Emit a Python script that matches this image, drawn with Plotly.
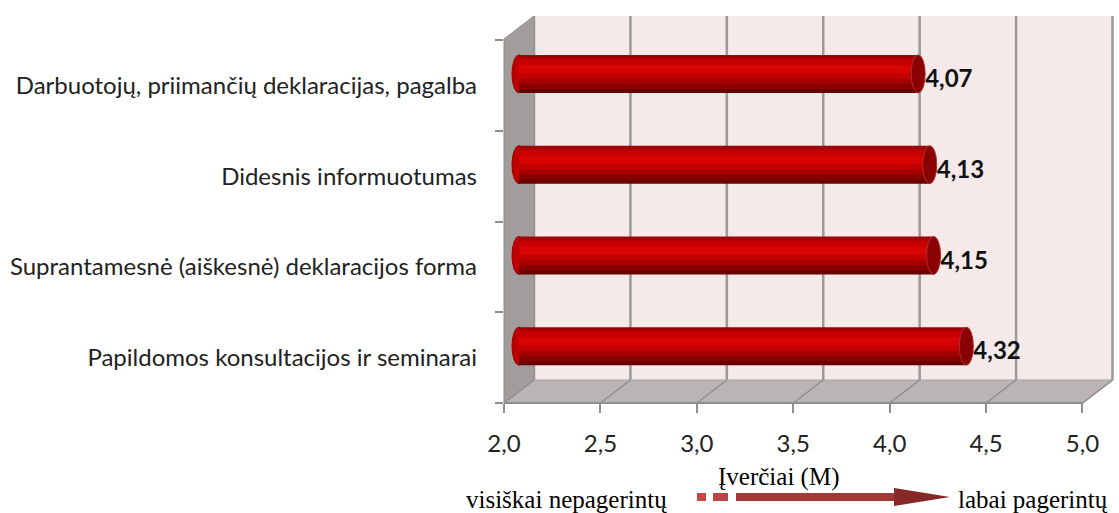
import plotly.graph_objects as go

# data
categories = ["Papildomos konsultacijos ir seminarai",
              "Suprantamesnė (aiškesnė) deklaracijos forma",
              "Didesnis informuotumas",
              "Darbuotojų, priimančių deklaracijas, pagalba"]
values = [4.32, 4.15, 4.13, 4.07]
x_ticks = [2.0, 2.5, 3.0, 3.5, 4.0, 4.5, 5.0]
x_title = "Įverčiai (M)"
low_label = "visiškai nepagerintų"
high_label = "labai pagerintų"

# geometry of the fake 3d box (pixels)
W, H = 1119, 513
L, R, T, B = 504, 1116, 16, 403
DX, DY = 30, 23
scale = 192.83            # px per unit on front axis
band = 90.75
x0 = 2.0
x_rng = [x0, x0 + (R - L) / scale]
y_rng = [-0.5, -0.5 + (B - T) / band]
# bars sit half way in depth
x2_rng = [r - (DX / 2) / scale for r in x_rng]
y2_rng = [r - (DY / 2) / band for r in y_rng]

def px(x):
    return (x - L) / (R - L)

def py(y):
    return (B - y) / (B - T)

ypos = list(range(len(categories)))
fig = go.Figure()
# keeps the front axes drawn
fig.add_trace(go.Scatter(x=[x0], y=[0], mode="markers", marker_opacity=0,
                         hoverinfo="skip", showlegend=False))

# cylinder look: horizontal stripes stacked from top to bottom
half = 19 / band
stripes = [(19, 15, "#a30000"), (15, 9, "#c60000"), (9, 1, "#d90303"),
           (1, -5, "#c20000"), (-5, -10, "#a40000"), (-10, -15, "#860000"),
           (-15, -19, "#690000")]
for top, bot, col in stripes:
    b = bot - 1.2 if bot > -19 else bot
    fig.add_trace(go.Bar(
        y=ypos, x=[v - x0 for v in values], base=x0, orientation="h",
        width=(top - b) / band, offset=b / band,
        marker=dict(color=col, line_width=0),
        xaxis="x2", yaxis="y2", hoverinfo="skip", showlegend=False))

shapes = []
# back wall, floor, left wall
shapes.append(dict(type="path", xref="paper", yref="paper", layer="below",
                   path=f"M{px(L+DX)},{py(T)} L{px(1083+DX)},{py(T)} L{px(1083+DX)},{py(B-DY)} L{px(L+DX)},{py(B-DY)} Z",
                   fillcolor="#f5e9e9", line_width=0))
for t in x_ticks:
    xb = L + DX + (t - x0) * scale
    shapes.append(dict(type="line", xref="paper", yref="paper", layer="below",
                       x0=px(xb), y0=py(T), x1=px(xb), y1=py(B - DY),
                       line=dict(color="#9a9a9a", width=2.5)))
shapes.append(dict(type="path", xref="paper", yref="paper", layer="below",
                   path=f"M{px(L)},{py(B)} L{px(1083)},{py(B)} L{px(1083+DX)},{py(B-DY)} L{px(L+DX)},{py(B-DY)} Z",
                   fillcolor="#bbb4b4", line=dict(color="#a8a2a2", width=1)))
for t in x_ticks:
    xb = L + DX + (t - x0) * scale
    xf = L + (t - x0) * scale
    shapes.append(dict(type="line", xref="paper", yref="paper", layer="below",
                       x0=px(xf), y0=py(B), x1=px(xb), y1=py(B - DY),
                       line=dict(color="#8f8f8f", width=1.5)))
shapes.append(dict(type="path", xref="paper", yref="paper", layer="below",
                   path=f"M{px(L)},{py(T+DY)} L{px(L+DX)},{py(T)} L{px(L+DX)},{py(B-DY)} L{px(L)},{py(B)} Z",
                   fillcolor="#a19d9d", line=dict(color="#8f8b8b", width=1)))
shapes.append(dict(type="line", xref="paper", yref="paper", layer="below",
                   x0=px(L), y0=py(B), x1=px(1083), y1=py(B),
                   line=dict(color="#8f8f8f", width=2)))

# bar end caps
cw = 7 / scale
for y, v in zip(ypos, values):
    shapes.append(dict(type="circle", xref="x2", yref="y2", layer="below",
                       x0=x0 - cw, x1=x0 + cw, y0=y - half, y1=y + half,
                       fillcolor="#bd0000", line=dict(color="#9a0000", width=1)))
    shapes.append(dict(type="circle", xref="x2", yref="y2", layer="above",
                       x0=v - cw, x1=v + cw, y0=y - half, y1=y + half,
                       fillcolor="#8a0000", line=dict(color="#a83030", width=1)))

# value labels
fig.add_trace(go.Scatter(
    x=[v + cw for v in values], y=[y - 0.08 for y in ypos], mode="text",
    text=[f"{v:.2f}".replace(".", ",") for v in values],
    textposition="middle right",
    textfont=dict(family="Lato", size=24, color="#111111", weight="bold"),
    xaxis="x2", yaxis="y2", hoverinfo="skip", showlegend=False))

# arrow under the axis
ay = 497
shapes.append(dict(type="rect", xref="paper", yref="paper", x0=px(697), x1=px(706),
                   y0=py(ay + 4), y1=py(ay - 4), fillcolor="#c44a4a", line_width=0))
shapes.append(dict(type="rect", xref="paper", yref="paper", x0=px(713), x1=px(728),
                   y0=py(ay + 4), y1=py(ay - 4), fillcolor="#bb4444", line_width=0))
shapes.append(dict(type="rect", xref="paper", yref="paper", x0=px(736), x1=px(896),
                   y0=py(ay + 4), y1=py(ay - 4), fillcolor="#a53838", line_width=0))
shapes.append(dict(type="path", xref="paper", yref="paper",
                   path=f"M{px(894)},{py(ay-9)} L{px(950)},{py(ay)} L{px(894)},{py(ay+9)} Z",
                   fillcolor="#862828", line_width=0))

serif = dict(family="Liberation Serif", size=25, color="#000")
annotations = [
    dict(text=x_title, xref="paper", yref="paper", x=px(778), y=py(477),
         yanchor="middle", showarrow=False, font=serif),
    dict(text=low_label, xref="paper", yref="paper", x=px(669), y=py(499),
         xanchor="right", yanchor="middle", showarrow=False, font=serif),
    dict(text=high_label, xref="paper", yref="paper", x=px(956), y=py(499),
         xanchor="left", yanchor="middle", showarrow=False, font=serif),
]

fig.update_layout(
    width=W, height=H,
    margin=dict(l=L, r=W - R, t=T, b=H - B),
    paper_bgcolor="white", plot_bgcolor="rgba(0,0,0,0)",
    separators=", ",
    barmode="overlay",
    shapes=shapes, annotations=annotations,
    xaxis=dict(range=x_rng, tickvals=x_ticks, ticktext=[f"{t:.1f}".replace(".", ",") for t in x_ticks],
               showgrid=False, zeroline=False, ticks="outside", ticklen=9, tickwidth=2,
               tickcolor="#8f8f8f", showline=False, ticklabelstandoff=10,
               tickfont=dict(family="Lato", size=24, color="#222")),
    yaxis=dict(range=y_rng, tickvals=ypos, ticktext=categories, showgrid=False, zeroline=False,
               ticks="", ticklabelstandoff=26,
               minor=dict(tickvals=[-0.5, 0.5, 1.5, 2.5, 3.5], ticks="outside", ticklen=8,
                          tickwidth=2, tickcolor="#8f8f8f"),
               tickfont=dict(family="Lato", size=24, color="#222")),
    xaxis2=dict(range=x2_rng, overlaying="x", visible=False),
    yaxis2=dict(range=y2_rng, overlaying="y", visible=False),
)

fig.write_html("out.html", config={"displayModeBar": False},
               post_script="document.body.style.margin='0';")
